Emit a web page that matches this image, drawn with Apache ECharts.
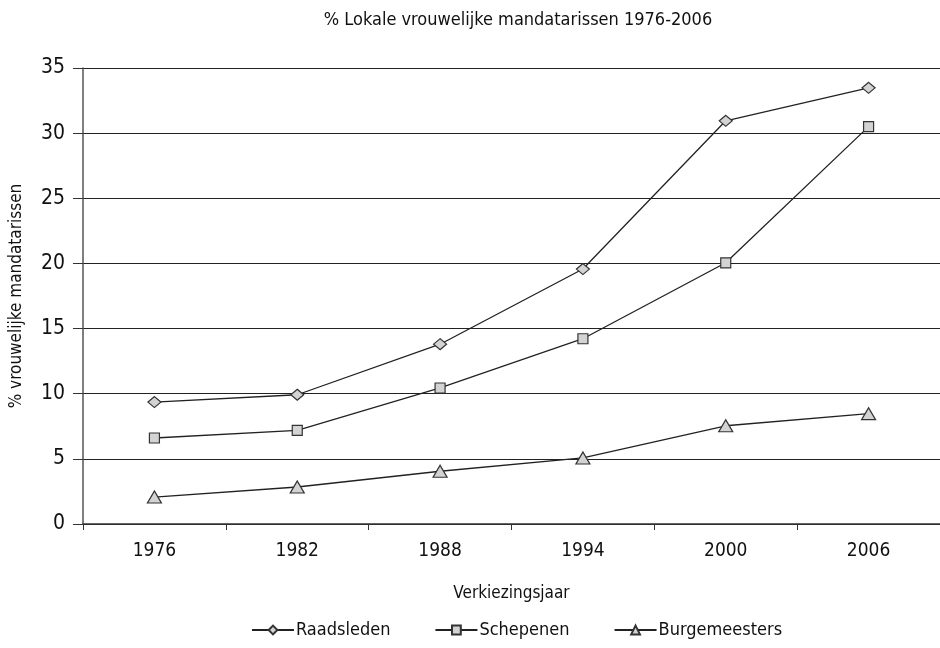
<!DOCTYPE html>
<html>
<head>
<meta charset="utf-8">
<script src="https://cdn.jsdelivr.net/npm/echarts@6/dist/echarts.min.js"></script>
<style>
html, body { margin: 0; padding: 0; background: #fff; }
#main { width: 940px; height: 648px; }
</style>
</head>
<body>
<div id="main"></div>
<script>
// data
var jaren = ['1976', '1982', '1988', '1994', '2000', '2006'];
var raadsleden = [9.36, 9.92, 13.8, 19.57, 30.95, 33.48];
var schepenen = [6.6, 7.18, 10.44, 14.22, 20.05, 30.5];
var burgemeesters = [2.07, 2.84, 4.05, 5.07, 7.54, 8.47];

var font = '"Liberation Sans Narrow", "DejaVu Sans Condensed", sans-serif';

function reeks(naam, data, symbool, grootte) {
    return {
        name: naam,
        type: 'line',
        data: data,
        symbol: symbool,
        symbolSize: grootte,
        showAllSymbol: true,
        lineStyle: { color: '#222', width: 1.3 },
        itemStyle: { color: '#d3d3d3', borderColor: '#333', borderWidth: 1.2 }
    };
}

var myChart = echarts.init(document.getElementById('main'));
var option = {
    animation: false,
    backgroundColor: '#fff',
    textStyle: { fontFamily: font },
    title: {
        text: '% Lokale vrouwelijke mandatarissen 1976-2006',
        left: 513,
        textAlign: 'center',
        top: 6,
        textStyle: { fontFamily: font, fontSize: 18, fontWeight: 'normal', color: '#111' }
    },
    legend: {
        bottom: 4,
        left: 246,
        itemWidth: 42,
        itemHeight: 11,
        itemGap: 44,
        textStyle: { fontFamily: font, fontSize: 18, color: '#111', padding: [0, 0, 0, -3] },
        data: ['Raadsleden', 'Schepenen', 'Burgemeesters']
    },
    grid: { left: 83, right: 0, top: 68, bottom: 124, outerBoundsMode: 'none', containLabel: false },
    xAxis: {
        type: 'category',
        data: jaren,
        boundaryGap: true,
        name: 'Verkiezingsjaar',
        nameLocation: 'middle',
        nameGap: 61,
        nameTextStyle: { fontFamily: font, fontSize: 17, color: '#111' },
        axisLine: { lineStyle: { color: '#333', width: 1.5 } },
        axisTick: { show: true, length: 6, alignWithLabel: false, lineStyle: { color: '#333' } },
        axisLabel: { fontFamily: font, fontSize: 19, color: '#111', margin: 18 }
    },
    yAxis: {
        type: 'value',
        min: 0,
        max: 35,
        interval: 5,
        name: '% vrouwelijke mandatarissen',
        nameLocation: 'middle',
        nameGap: 58,
        nameTextStyle: { fontFamily: font, fontSize: 17, color: '#111' },
        axisLine: { show: true, lineStyle: { color: '#555', width: 1.5 } },
        axisTick: { show: true, length: 10, lineStyle: { color: '#333' } },
        axisLabel: { fontFamily: font, fontSize: 21, color: '#111', margin: 18 },
        splitLine: { show: true, lineStyle: { color: '#222', width: 1.2 } }
    },
    series: [
        reeks('Raadsleden', raadsleden, 'diamond', [13, 11]),
        reeks('Schepenen', schepenen, 'rect', 10),
        reeks('Burgemeesters', burgemeesters, 'triangle', [14, 12])
    ]
};
myChart.setOption(option);
</script>
</body>
</html>
